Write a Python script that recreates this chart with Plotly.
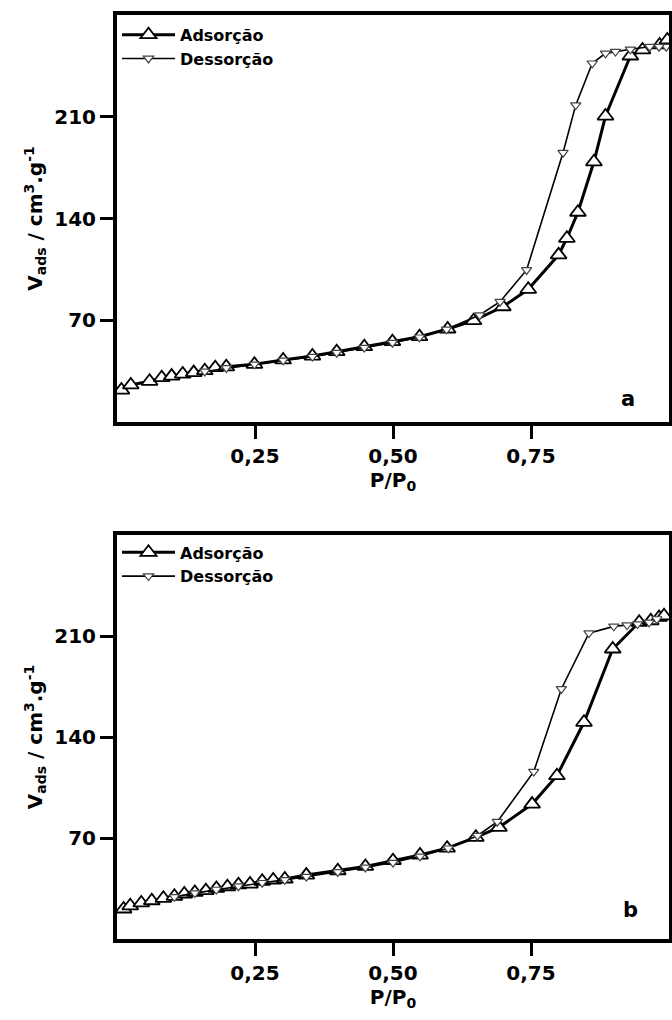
import plotly.graph_objects as go
from plotly.subplots import make_subplots

# ---- Panel a ----
a_ads_x = [0.008, 0.025, 0.059, 0.081, 0.099, 0.119, 0.139, 0.159, 0.178, 0.198,
           0.249, 0.301, 0.354, 0.398, 0.448, 0.499, 0.548, 0.599, 0.646, 0.699,
           0.745, 0.800, 0.815, 0.835, 0.864, 0.885, 0.930, 0.952, 0.983, 0.997]
a_ads_y = [22.0, 25.5, 28.0, 30.5, 31.6, 33.0, 34.0, 35.3, 37.4, 38.0,
           39.7, 42.7, 45.4, 48.4, 51.8, 55.3, 58.7, 64.0, 69.7, 79.3,
           91.3, 115.0, 126.4, 144.3, 179.0, 210.5, 251.8, 256.0, 259.4, 262.8]
a_des_x = [0.995, 0.982, 0.965, 0.930, 0.903, 0.885, 0.861, 0.831, 0.808, 0.742,
           0.694, 0.657, 0.597, 0.548, 0.499, 0.448, 0.398, 0.354, 0.301, 0.249,
           0.198, 0.159]
a_des_y = [258.2, 258.2, 258.2, 256.4, 254.8, 253.6, 246.8, 218.0, 185.3, 104.6,
           82.8, 73.6, 63.8, 58.3, 54.6, 51.2, 47.7, 45.0, 42.4, 39.7,
           37.2, 34.8]

# ---- Panel b ----
b_ads_x = [0.012, 0.024, 0.044, 0.063, 0.084, 0.104, 0.122, 0.141, 0.161, 0.180,
           0.200, 0.220, 0.241, 0.263, 0.283, 0.304, 0.343, 0.400, 0.450, 0.500,
           0.549, 0.598, 0.650, 0.692, 0.752, 0.797, 0.846, 0.898, 0.946, 0.967,
           0.982, 0.991]
b_ads_y = [20.8, 23.0, 25.0, 26.5, 28.2, 29.6, 31.2, 32.3, 33.5, 35.1,
           36.2, 37.6, 38.1, 40.0, 40.9, 41.6, 44.3, 47.3, 50.3, 54.3,
           58.2, 63.0, 70.5, 77.4, 93.5, 113.2, 150.2, 201.0, 219.5, 220.6,
           222.9, 224.0]
b_des_x = [0.978, 0.964, 0.943, 0.924, 0.900, 0.855, 0.805, 0.755, 0.689, 0.653,
           0.600, 0.549, 0.500, 0.450, 0.400, 0.343, 0.304, 0.263, 0.220, 0.180,
           0.141, 0.104]
b_des_y = [221.8, 219.5, 218.3, 217.6, 216.7, 212.0, 173.3, 116.0, 81.3, 71.6,
           62.9, 57.3, 53.0, 49.6, 46.5, 43.3, 41.0, 39.0, 36.6, 34.3,
           31.8, 29.2]

x_tickvals = [0.25, 0.50, 0.75]
x_ticktext = ["0,25", "0,50", "0,75"]
y_tickvals = [70, 140, 210]
y_ticktext = ["70", "140", "210"]
series_names = ["Adsorção", "Dessorção"]
panel_labels = ["a", "b"]

FONT = "DejaVu Sans"

fig = make_subplots(rows=2, cols=1, vertical_spacing=0.1223)
fig.update_layout(
    yaxis=dict(domain=[0.5595, 1.0]),
    yaxis2=dict(domain=[0.0, 0.4372]),
)

panels = [(a_ads_x, a_ads_y, a_des_x, a_des_y),
          (b_ads_x, b_ads_y, b_des_x, b_des_y)]

for i, (ax_, ay_, dx_, dy_) in enumerate(panels):
    row = i + 1
    leg = "legend" if i == 0 else "legend2"
    fig.add_trace(go.Scatter(
        x=ax_, y=ay_, mode="lines+markers", name=series_names[0],
        line=dict(color="black", width=3),
        marker=dict(symbol="triangle-up", size=14, color="white",
                    line=dict(color="black", width=1.8)),
        legend=leg), row=row, col=1)
    fig.add_trace(go.Scatter(
        x=dx_, y=dy_, mode="lines+markers", name=series_names[1],
        line=dict(color="black", width=1.6),
        marker=dict(symbol="triangle-down", size=9, color="white",
                    line=dict(color="#444444", width=1.2)),
        legend=leg), row=row, col=1)

axis_common = dict(
    showline=True, linecolor="black", linewidth=4, mirror=True,
    ticks="outside", ticklen=13, tickwidth=3, tickcolor="black",
    showgrid=False, zeroline=False, automargin=False,
    tickfont=dict(family=FONT, size=20, color="black", weight="bold"),
)

for r in (1, 2):
    fig.update_xaxes(range=[0, 1.0], tickvals=x_tickvals, ticktext=x_ticktext,
                     title=dict(text="<b>P/P<sub>0</sub></b>",
                                font=dict(family=FONT, size=20, color="black"),
                                standoff=3),
                     row=r, col=1, **axis_common)
    fig.update_yaxes(range=[0, 280], tickvals=y_tickvals, ticktext=y_ticktext,
                     title=dict(text="<b>V<sub>ads</sub> / cm<sup>3</sup>.g<sup>-1</sup></b>",
                                font=dict(family=FONT, size=20, color="black"),
                                standoff=7),
                     row=r, col=1, **axis_common)

fig.add_annotation(x=0.926, y=16, xref="x", yref="y", text="<b>a</b>",
                   showarrow=False, font=dict(family=FONT, size=21, color="black"))
fig.add_annotation(x=0.93, y=20, xref="x2", yref="y2", text="<b>b</b>",
                   showarrow=False, font=dict(family=FONT, size=21, color="black"))

legend_common = dict(
    bgcolor="rgba(0,0,0,0)", borderwidth=0,
    font=dict(family=FONT, size=16, color="black", weight="bold"),
    xanchor="left", yanchor="top", itemwidth=53, tracegroupgap=0,
)
fig.update_layout(
    width=672, height=1020,
    margin=dict(l=117, r=3, t=15, b=81, autoexpand=False),
    paper_bgcolor="white", plot_bgcolor="white",
    showlegend=True,
    legend=dict(x=0.0, y=0.997, **legend_common),
    legend2=dict(x=0.0, y=0.4368, **legend_common),
)

fig.write_html(
    "out.html",
    config={"displayModeBar": False},
    post_script="document.body.style.margin='0';document.body.style.overflow='hidden';",
)
